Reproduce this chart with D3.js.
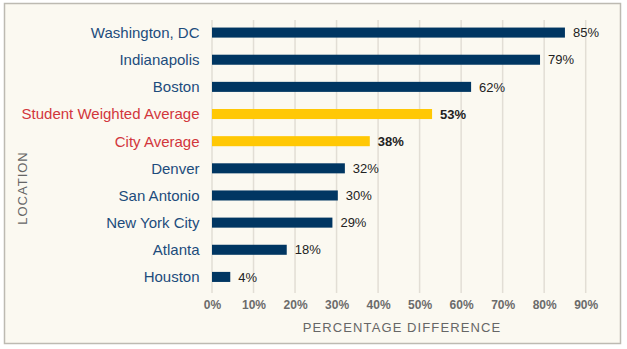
<!DOCTYPE html>
<html>
<head>
<meta charset="utf-8">
<script src="https://cdn.jsdelivr.net/npm/d3@7"></script>
<style>
  body { margin: 0; background: #fff; }
  svg { display: block; font-family: "Liberation Sans", Arial, sans-serif; }
</style>
</head>
<body>
<svg id="chart" width="627" height="349"></svg>
<script>
const locations = ["Washington, DC", "Indianapolis", "Boston", "Student Weighted Average", "City Average",
    "Denver", "San Antonio", "New York City", "Atlanta", "Houston"];
const differences = [85, 79, 62.4, 53, 38, 32, 30.3, 29, 18, 4.4];
const isAverage = [false, false, false, true, true, false, false, false, false, false];
const xTicks = [0, 10, 20, 30, 40, 50, 60, 70, 80, 90];

const rows = locations.map((name, i) => ({name, value: differences[i], avg: isAverage[i]}));

const svg = d3.select("#chart");

// frame
svg.append("rect")
    .attr("x", 4.5).attr("y", 3.5)
    .attr("width", 616).attr("height", 340)
    .attr("fill", "#fbf9f1")
    .attr("stroke", "#bdbab2")
    .attr("stroke-width", 1.5);

const x = d3.scaleLinear().domain([0, 90]).range([212, 585.7]);
const y = d3.scaleBand().domain(locations).range([19, 290.5]).paddingInner(0.63).paddingOuter(0.315);

// gridlines
svg.append("g")
    .selectAll("line")
    .data(xTicks)
    .join("line")
    .attr("x1", d => x(d)).attr("x2", d => x(d))
    .attr("y1", 20).attr("y2", 293)
    .attr("stroke", "#e2ded5")
    .attr("stroke-width", 1.5);

// bars
svg.append("g")
    .selectAll("rect")
    .data(rows)
    .join("rect")
    .attr("x", x(0))
    .attr("y", d => y(d.name))
    .attr("width", d => x(d.value) - x(0))
    .attr("height", y.bandwidth())
    .attr("fill", d => d.avg ? "#ffc805" : "#003662");

// value labels
svg.append("g")
    .selectAll("text")
    .data(rows)
    .join("text")
    .attr("x", d => x(d.value) + 8)
    .attr("y", d => y(d.name) + y.bandwidth() / 2)
    .attr("dy", "0.36em")
    .attr("font-size", 13)
    .attr("font-weight", d => d.avg ? "bold" : "normal")
    .attr("fill", "#222")
    .text(d => Math.round(d.value) + "%");

// category labels
svg.append("g")
    .selectAll("text")
    .data(rows)
    .join("text")
    .attr("x", 199.5)
    .attr("y", d => y(d.name) + y.bandwidth() / 2)
    .attr("dy", "0.36em")
    .attr("text-anchor", "end")
    .attr("font-size", 15)
    .attr("fill", d => d.avg ? "#d2363c" : "#1d4c7c")
    .text(d => d.name);

// x axis
const xAxis = svg.append("g")
    .attr("transform", "translate(0,293)")
    .call(d3.axisBottom(x).tickValues(xTicks).tickFormat(d => d + "%").tickSize(0).tickPadding(7));
xAxis.select(".domain").remove();
xAxis.selectAll("text")
    .attr("font-size", 12)
    .attr("font-weight", "bold")
    .attr("fill", "#6b6b6b")
    .attr("font-family", "Liberation Sans, Arial, sans-serif");

svg.append("text")
    .attr("x", 402).attr("y", 332)
    .attr("text-anchor", "middle")
    .attr("font-size", 13)
    .attr("letter-spacing", 1.1)
    .attr("fill", "#666")
    .text("PERCENTAGE DIFFERENCE");

svg.append("text")
    .attr("transform", "translate(27,188) rotate(-90)")
    .attr("text-anchor", "middle")
    .attr("font-size", 13)
    .attr("letter-spacing", 1)
    .attr("fill", "#666")
    .text("LOCATION");
</script>
</body>
</html>
